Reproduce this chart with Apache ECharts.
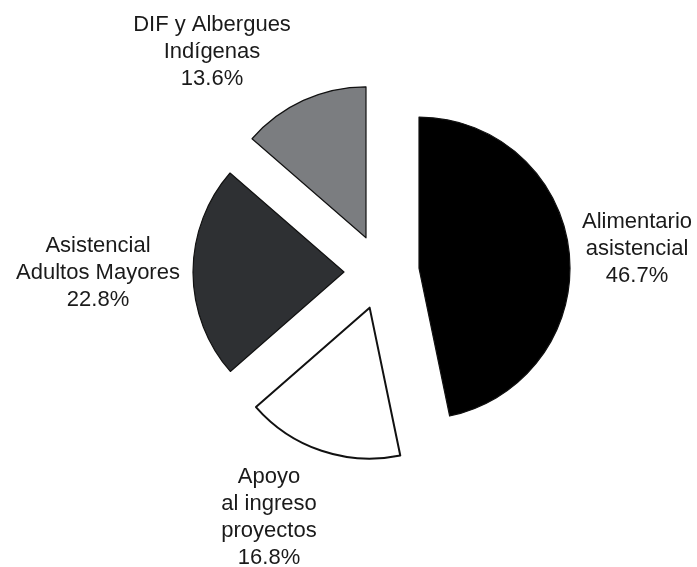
<html>
<meta charset="UTF-8">
<head>
    <script src="https://cdn.jsdelivr.net/npm/echarts@6/dist/echarts.min.js"></script>
</head>
<body style="margin:0;background:#fff">
<div id="pieChart" style="width:697px;height:567px"></div>
</body>
<script>
    // datos del grafico
    var categories = ['Alimentario\nasistencial', 'Apoyo\nal ingreso\nproyectos', 'Asistencial\nAdultos Mayores', 'DIF y Albergues\nIndígenas'];
    var values = [46.7, 16.8, 22.8, 13.6];
    var colors = ['#000000', '#ffffff', '#2e3033', '#7b7d80'];
    // posicion de las etiquetas (centro del bloque de texto)
    var labelPos = [[637, 249], [269, 517], [98, 273], [212, 52]];

    var chart = echarts.init(document.getElementById('pieChart'));
    var datas = [];
    var labels = [];
    for (var i = 0; i < categories.length; i++) {
        datas.push({
            value: values[i],
            name: categories[i],
            selected: true,
            itemStyle: {
                color: colors[i],
                borderColor: '#111',
                borderWidth: i == 1 ? 2 : 1.2
            }
        });
        labels.push({
            type: 'text',
            x: labelPos[i][0],
            y: labelPos[i][1],
            style: {
                text: categories[i] + '\n' + values[i].toFixed(1) + '%',
                fill: '#1a1a1a',
                font: '22px "Liberation Sans", Arial, sans-serif',
                lineHeight: 27,
                align: 'center',
                verticalAlign: 'middle'
            }
        });
    }

    chart.setOption({
        animation: false,
        graphic: labels,
        series: [{
            type: 'pie',
            center: [381.6, 272],
            radius: 151,
            startAngle: 90,
            clockwise: true,
            selectedMode: 'multiple',
            selectedOffset: 37.6,
            data: datas,
            emphasis: {disabled: true},
            labelLine: {show: false},
            label: {show: false}
        }]
    });
</script>
</html>
